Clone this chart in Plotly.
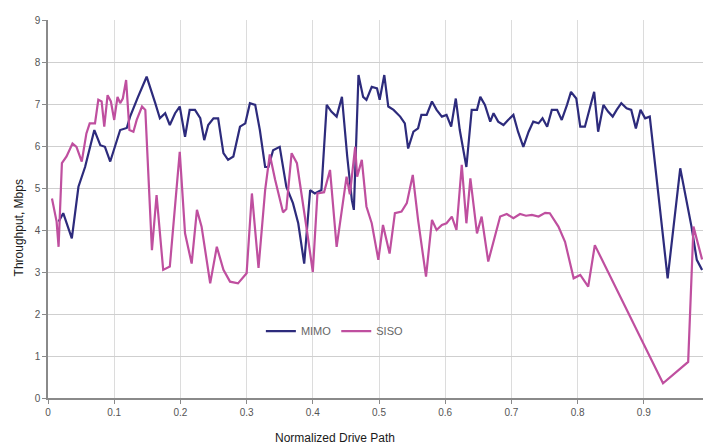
import plotly.graph_objects as go

mimo_x = [0.016,0.023,0.036,0.046,0.056,0.070,0.079,0.086,0.094,0.104,0.109,0.119,0.124,0.136,0.149,0.162,0.169,0.177,0.184,0.192,0.199,0.207,0.214,0.222,0.230,0.236,0.242,0.250,0.257,0.265,0.272,0.280,0.290,0.298,0.305,0.313,0.320,0.328,0.333,0.340,0.350,0.360,0.370,0.378,0.387,0.396,0.403,0.413,0.421,0.428,0.436,0.444,0.452,0.459,0.462,0.469,0.476,0.481,0.489,0.497,0.501,0.508,0.514,0.522,0.532,0.539,0.544,0.552,0.559,0.564,0.572,0.580,0.587,0.595,0.602,0.609,0.616,0.622,0.632,0.640,0.648,0.653,0.660,0.668,0.673,0.680,0.688,0.695,0.703,0.710,0.718,0.726,0.733,0.741,0.747,0.754,0.761,0.769,0.776,0.784,0.790,0.798,0.804,0.811,0.818,0.825,0.831,0.839,0.846,0.853,0.859,0.866,0.874,0.881,0.888,0.895,0.902,0.909,0.936,0.955,0.972,0.980,0.988]
mimo_y = [4.20,4.40,3.80,5.03,5.50,6.38,6.02,5.98,5.63,6.14,6.38,6.43,6.70,7.17,7.65,7.02,6.66,6.78,6.50,6.78,6.94,6.22,6.86,6.86,6.66,6.14,6.50,6.66,6.66,5.83,5.67,5.75,6.46,6.54,7.02,6.98,6.38,5.50,5.50,5.90,5.98,5.03,4.64,4.16,3.20,4.95,4.87,4.95,6.98,6.82,6.70,7.17,5.75,4.71,4.48,7.69,7.17,7.10,7.41,7.37,7.10,7.69,6.94,6.86,6.70,6.54,5.94,6.34,6.42,6.74,6.74,7.06,6.86,6.70,6.74,6.46,7.13,6.38,5.50,6.86,6.86,7.17,6.98,6.58,6.78,6.58,6.50,6.62,6.74,6.34,5.98,6.34,6.58,6.54,6.66,6.46,6.86,6.86,6.62,6.98,7.29,7.13,6.46,6.46,6.86,7.29,6.34,6.98,6.82,6.70,6.86,7.02,6.90,6.86,6.42,6.86,6.66,6.70,2.85,5.47,4.08,3.29,3.05]

siso_x = [0.006,0.013,0.016,0.021,0.028,0.037,0.043,0.051,0.058,0.063,0.071,0.076,0.081,0.085,0.090,0.095,0.100,0.105,0.109,0.113,0.118,0.123,0.129,0.134,0.142,0.147,0.157,0.164,0.174,0.184,0.199,0.207,0.217,0.225,0.232,0.245,0.255,0.265,0.275,0.287,0.300,0.308,0.318,0.328,0.335,0.343,0.355,0.360,0.368,0.376,0.391,0.400,0.407,0.417,0.426,0.436,0.451,0.456,0.464,0.467,0.474,0.481,0.489,0.499,0.506,0.516,0.524,0.534,0.542,0.551,0.559,0.571,0.580,0.587,0.595,0.602,0.610,0.617,0.625,0.632,0.638,0.648,0.655,0.665,0.683,0.693,0.703,0.713,0.722,0.731,0.741,0.751,0.758,0.771,0.781,0.794,0.804,0.816,0.826,0.929,0.967,0.975,0.988]
siso_y = [4.75,4.20,3.60,5.59,5.75,6.06,5.98,5.63,6.30,6.54,
          6.54,7.10,7.06,6.46,7.21,7.06,6.62,7.17,7.02,7.13,
          7.57,6.38,6.34,6.62,6.94,6.86,3.52,4.83,3.05,3.13,
          5.86,3.92,3.20,4.48,4.08,2.73,3.60,3.05,2.77,2.73,
          2.97,4.87,3.10,4.95,5.80,5.20,4.42,4.50,5.83,5.59,
          4.00,3.00,4.87,4.90,5.43,3.60,5.27,4.85,5.98,5.27,
          5.67,4.56,4.16,3.29,4.12,3.44,4.40,4.44,4.64,5.31,
          4.24,2.89,4.24,4.00,4.12,4.16,4.32,4.00,5.55,4.16,
          5.23,3.92,4.32,3.25,4.32,4.38,4.28,4.38,4.34,4.36,
          4.32,4.41,4.40,4.08,3.72,2.85,2.93,2.65,3.64,0.35,
          0.86,4.08,3.30]

x_ticks = [0, 0.1, 0.2, 0.3, 0.4, 0.5, 0.6, 0.7, 0.8, 0.9]
x_tick_labels = ["0", "0.1", "0.2", "0.3", "0.4", "0.5", "0.6", "0.7", "0.8", "0.9"]
y_ticks = [0, 1, 2, 3, 4, 5, 6, 7, 8, 9]

fig = go.Figure()
fig.add_trace(go.Scatter(x=mimo_x, y=mimo_y, mode="lines", name="MIMO",
                         line=dict(color="#2d2b7c", width=2.2)))
fig.add_trace(go.Scatter(x=siso_x, y=siso_y, mode="lines", name="SISO",
                         line=dict(color="#bf4f9f", width=2.2)))

fig.update_layout(
    width=703, height=447,
    margin=dict(l=48, r=0, t=20, b=49, autoexpand=False),
    paper_bgcolor="white", plot_bgcolor="white",
    font=dict(family="Liberation Sans, Arial, sans-serif", size=10, color="#555555"),
    legend=dict(orientation="h", x=0.325, y=0.177, xanchor="left", yanchor="middle",
                bgcolor="rgba(0,0,0,0)", font=dict(size=11, color="#666666"),
                itemwidth=30, tracegroupgap=0),
    xaxis=dict(range=[0, 0.9894], tickvals=x_ticks, ticktext=x_tick_labels,
               showgrid=True, gridcolor="#dcdcdc", gridwidth=1,
               showline=True, linecolor="#8a8a8a", linewidth=1.5,
               ticks="outside", ticklen=4, tickcolor="#8a8a8a",
               zeroline=False, tickfont=dict(size=10, color="#555555")),
    yaxis=dict(range=[0, 9], tickvals=y_ticks,
               showgrid=True, gridcolor="#cfcfcf", gridwidth=1,
               showline=True, linecolor="#8a8a8a", linewidth=1.5,
               ticks="outside", ticklen=4, tickcolor="#8a8a8a",
               zeroline=False, tickfont=dict(size=10, color="#555555")),
    annotations=[
        dict(text="Normalized Drive Path", xref="paper", yref="paper",
             x=0.438, y=-0.106, xanchor="center", yanchor="middle", showarrow=False,
             font=dict(size=12, color="#1a1a1a")),
        dict(text="Throughput, Mbps", xref="paper", yref="paper",
             x=-0.045, y=0.45, xanchor="center", yanchor="middle", showarrow=False,
             textangle=-90, font=dict(size=12, color="#1a1a1a")),
    ],
)

fig.write_html("out.html", config={"displayModeBar": False},
               post_script="document.body.style.margin='0';document.body.style.padding='0';")
